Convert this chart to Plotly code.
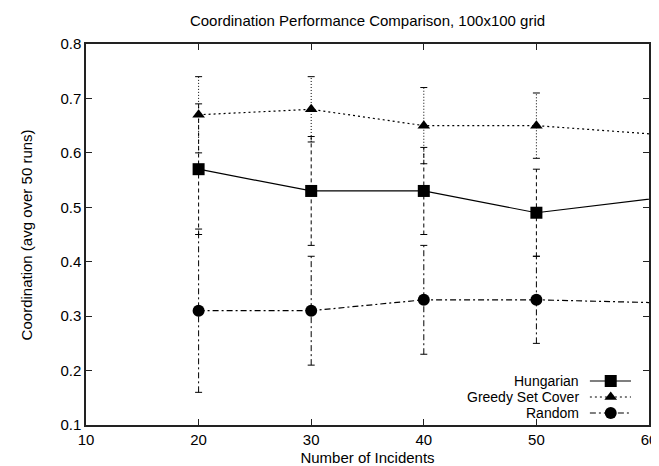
import plotly.graph_objects as go

# ---- data ----
incidents = [20, 30, 40, 50, 70]
hungarian = [0.57, 0.53, 0.53, 0.49, 0.54]
hungarian_err = [0.12, 0.10, 0.08, 0.08, 0.08]
greedy = [0.67, 0.68, 0.65, 0.65, 0.62]
greedy_err = [0.07, 0.06, 0.07, 0.06, 0.06]
random_ = [0.31, 0.31, 0.33, 0.33, 0.32]
random_err = [0.15, 0.10, 0.10, 0.08, 0.08]

series_names = ["Hungarian", "Greedy Set Cover", "Random"]
x_ticks = [10, 20, 30, 40, 50, 60]
y_ticks = [0.1, 0.2, 0.3, 0.4, 0.5, 0.6, 0.7, 0.8]

FONT = "Liberation Sans, Arial, sans-serif"
FS = 15

styles = [
    dict(y=hungarian, e=hungarian_err, dash="solid", edash="4px,3px", symbol="square", size=12),
    dict(y=greedy, e=greedy_err, dash="2px,3px", edash="1px,2px", symbol="triangle-up", size=11),
    dict(y=random_, e=random_err, dash="6px,3px,2px,3px", edash="6px,3px,2px,3px", symbol="circle", size=12),
]

fig = go.Figure()

# error bars (drawn as dashed segments, styled like gnuplot)
for st in styles:
    ex, ey, cx, cy = [], [], [], []
    for xv, yv, ev in zip(incidents, st["y"], st["e"]):
        ex += [xv, xv, None]
        ey += [yv - ev, yv + ev, None]
        cx += [xv, xv]
        cy += [yv - ev, yv + ev]
    fig.add_trace(go.Scatter(x=ex, y=ey, mode="lines",
                             line=dict(color="black", width=1, dash=st["edash"]),
                             showlegend=False, hoverinfo="skip"))
    fig.add_trace(go.Scatter(x=cx, y=cy, mode="markers",
                             marker=dict(symbol="line-ew", size=5, color="black",
                                         line=dict(color="black", width=1)),
                             showlegend=False, hoverinfo="skip", cliponaxis=True))

# series lines + markers
for name, st in zip(series_names, styles):
    fig.add_trace(go.Scatter(x=incidents, y=st["y"], mode="lines+markers", name=name,
                             line=dict(color="black", width=1.2, dash=st["dash"]),
                             marker=dict(symbol=st["symbol"], size=st["size"], color="black"),
                             showlegend=False, cliponaxis=True))

# gnuplot-style key (text, then sample) in the lower right
key_rows = [0.1155, 0.0735, 0.0315]
for name, st, ry in zip(series_names, styles, key_rows):
    fig.add_trace(go.Scatter(x=[0.895, 0.968], y=[ry, ry], mode="lines", xaxis="x2", yaxis="y2",
                             line=dict(color="black", width=1.2, dash=st["dash"]),
                             showlegend=False, hoverinfo="skip"))
    fig.add_trace(go.Scatter(x=[0.932], y=[ry], mode="markers", xaxis="x2", yaxis="y2",
                             marker=dict(symbol=st["symbol"], size=st["size"], color="black"),
                             showlegend=False, hoverinfo="skip"))
    fig.add_annotation(text=name, xref="paper", yref="paper", x=0.877, y=ry,
                       xanchor="right", yanchor="middle", showarrow=False,
                       borderpad=0,
                       font=dict(family=FONT, size=14, color="black"))

axis_common = dict(showgrid=False, zeroline=False, showline=True, mirror="ticks",
                   linecolor="#222", linewidth=1.5, ticks="inside", ticklen=6,
                   tickcolor="#222", tickwidth=1,
                   tickfont=dict(family=FONT, size=FS, color="black"))

fig.update_layout(
    width=659, height=466,
    margin=dict(l=78, r=10, t=36, b=49),
    paper_bgcolor="white", plot_bgcolor="white",
    font=dict(family=FONT, size=FS, color="black"),
    title=dict(text="Coordination Performance Comparison, 100x100 grid",
               x=0.5, xref="paper", y=1 - 13 / 466, yref="container",
               xanchor="center", yanchor="middle",
               font=dict(family=FONT, size=FS, color="black")),
    xaxis=dict(range=[10, 60], tickvals=x_ticks, ticktext=[str(v) for v in x_ticks],
               title=dict(text="Number of Incidents", standoff=6,
                          font=dict(family=FONT, size=FS, color="black")),
               **axis_common),
    yaxis=dict(range=[0.1, 0.8], tickvals=y_ticks, ticktext=[f"{v:.1f}" for v in y_ticks],
               **axis_common),
    xaxis2=dict(range=[0, 1], overlaying="x", visible=False, fixedrange=True),
    yaxis2=dict(range=[0, 1], overlaying="y", visible=False, fixedrange=True),
    showlegend=False,
)

fig.add_annotation(text="Coordination (avg over 50 runs)", xref="paper", yref="paper",
                   x=-0.105, y=0.5, textangle=-90, showarrow=False,
                   xanchor="center", yanchor="middle",
                   font=dict(family=FONT, size=FS, color="black"))

fig.write_html("out.html")
